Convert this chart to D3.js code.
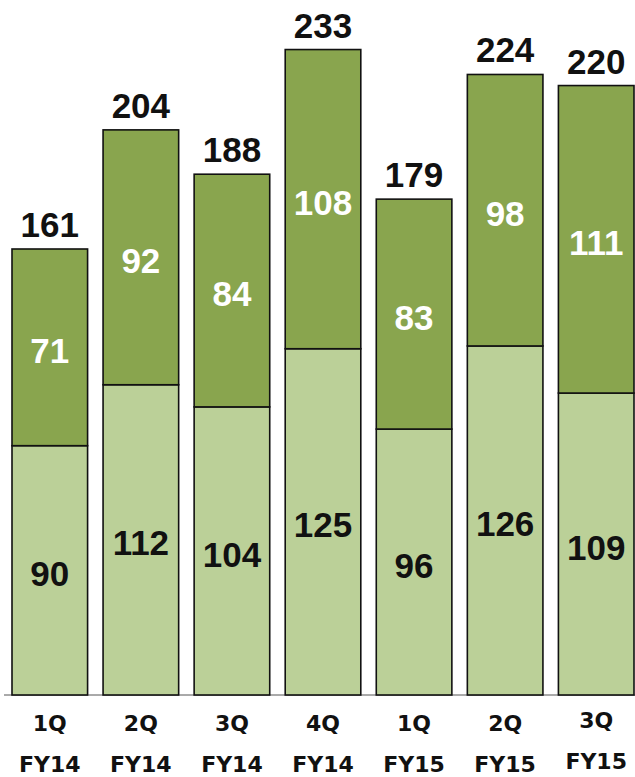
<!DOCTYPE html>
<html>
<head>
<meta charset="utf-8">
<script src="https://cdn.jsdelivr.net/npm/d3@7"></script>
<style>
  body { margin: 0; background: #fff; }
</style>
</head>
<body>
<div id="chart"></div>
<script>
// data
var quarters = ["1Q", "2Q", "3Q", "4Q", "1Q", "2Q", "3Q"];
var years = ["FY14", "FY14", "FY14", "FY14", "FY15", "FY15", "FY15"];
var lower = [90, 112, 104, 125, 96, 126, 109];
var upper = [71, 92, 84, 108, 83, 98, 111];
var totals = [161, 204, 188, 233, 179, 224, 220];

var width = 635, height = 777;
var baseY = 695;

var svg = d3.select("#chart")
  .append("svg")
    .attr("width", width)
    .attr("height", height);

var x = d3.scaleBand()
  .domain(d3.range(quarters.length))
  .range([12, 634])
  .paddingInner(0.17)
  .paddingOuter(0);

var y = d3.scaleLinear()
  .domain([0, 161])
  .range([baseY, 249]);

var rows = quarters.map(function(q, i) {
  return {i: i, q: q, fy: years[i], lo: lower[i], hi: upper[i], tot: totals[i]};
});

// baseline
svg.append("line")
  .attr("x1", 4).attr("x2", width)
  .attr("y1", baseY).attr("y2", baseY)
  .attr("stroke", "#555").attr("stroke-width", 1);

var g = svg.selectAll(".bar").data(rows).enter().append("g").attr("class", "bar");

// lower segment
g.append("rect")
  .attr("x", function(d) { return x(d.i); })
  .attr("y", function(d) { return y(d.lo); })
  .attr("width", x.bandwidth())
  .attr("height", function(d) { return baseY - y(d.lo); })
  .attr("fill", "#bbd098")
  .attr("stroke", "#111").attr("stroke-width", 1.6);

// upper segment
g.append("rect")
  .attr("x", function(d) { return x(d.i); })
  .attr("y", function(d) { return y(d.lo + d.hi); })
  .attr("width", x.bandwidth())
  .attr("height", function(d) { return y(d.lo) - y(d.lo + d.hi); })
  .attr("fill", "#89a54e")
  .attr("stroke", "#111").attr("stroke-width", 1.6);

var numFont = "'Liberation Sans', Arial, sans-serif";
function cx(d) { return x(d.i) + x.bandwidth() / 2; }

g.append("text")
  .attr("x", cx)
  .attr("y", function(d) { return (baseY + y(d.lo)) / 2 + 3; })
  .attr("dy", "0.36em")
  .attr("text-anchor", "middle")
  .style("font", "bold 35px " + numFont)
  .attr("fill", "#111")
  .text(function(d) { return d.lo; });

g.append("text")
  .attr("x", cx)
  .attr("y", function(d) { return (y(d.lo) + y(d.lo + d.hi)) / 2 + 3; })
  .attr("dy", "0.36em")
  .attr("text-anchor", "middle")
  .style("font", "bold 35px " + numFont)
  .attr("fill", "#fff")
  .text(function(d) { return d.hi; });

g.append("text")
  .attr("x", cx)
  .attr("y", function(d) { return y(d.tot) - 12; })
  .attr("text-anchor", "middle")
  .style("font", "bold 35px " + numFont)
  .attr("fill", "#111")
  .text(function(d) { return d.tot; });

// category labels (two lines)
var lab = svg.selectAll(".lab").data(rows).enter().append("text")
  .attr("class", "lab")
  .attr("text-anchor", "middle")
  .style("font", "bold 22px 'DejaVu Sans', Verdana, sans-serif")
  .attr("fill", "#111");

lab.append("tspan")
  .attr("x", cx)
  .attr("y", function(d) { return d.i === 6 ? 728 : 731; })
  .text(function(d) { return d.q; });

lab.append("tspan")
  .attr("x", cx)
  .attr("y", function(d) { return d.i === 6 ? 769 : 772; })
  .text(function(d) { return d.fy; });
</script>
</body>
</html>
